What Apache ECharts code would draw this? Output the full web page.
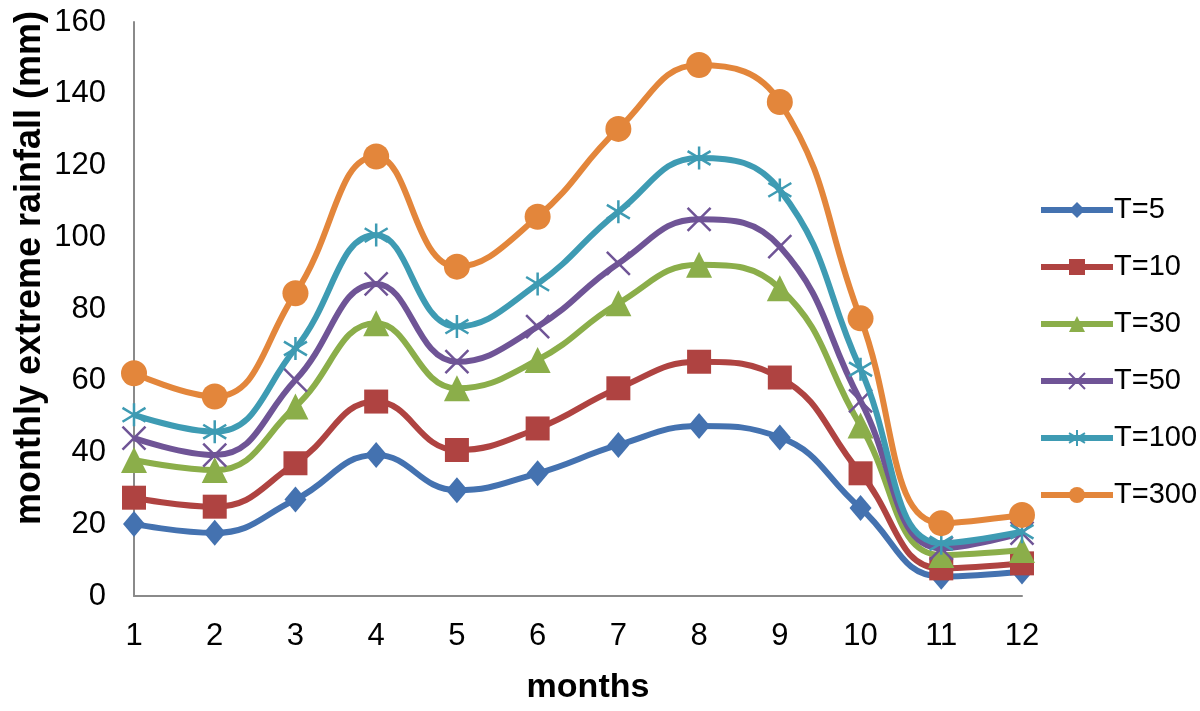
<!DOCTYPE html>
<html>
<head>
<meta charset="utf-8">
<script src="https://cdn.jsdelivr.net/npm/echarts@6/dist/echarts.min.js"></script>
<style>
html,body{margin:0;padding:0;background:#fff;}
#chart{width:1200px;height:711px;}
</style>
</head>
<body>
<div id="chart"></div>
<script>
const months = ['1','2','3','4','5','6','7','8','9','10','11','12'];
const seriesNames = ['T=5','T=10','T=30','T=50','T=100','T=300'];
const t5   = [20.1, 17.6, 26.9, 39.3, 29.5, 34.2, 42.1, 47.4, 44.2, 24.5, 5.4, 6.8];
const t10  = [27.4, 24.9, 37.0, 54.2, 40.7, 46.7, 57.9, 65.3, 60.9, 34.2, 7.7, 9.1];
const t30  = [37.9, 35.1, 52.8, 76.0, 57.9, 65.8, 81.6, 92.3, 85.8, 47.5, 11.4, 12.8];
const t50  = [44.0, 39.3, 60.2, 87.0, 65.3, 75.1, 92.7, 105.0, 97.4, 54.4, 13.3, 17.5];
const t100 = [50.5, 45.8, 69.0, 100.6, 75.1, 87.0, 107.1, 122.1, 113.2, 63.2, 14.7, 17.9];
const t300 = [62.1, 55.6, 84.4, 122.5, 91.8, 105.7, 130.2, 148.0, 137.7, 77.4, 20.3, 22.6];
const yTicks = [0, 20, 40, 60, 80, 100, 120, 140, 160];

const colors = ['#4472B0', '#AF4341', '#8BAE4A', '#6F5496', '#3E9BB3', '#E3863B'];
const symbols = [
  'diamond',
  'rect',
  'triangle',
  'path://M0 0L20 20M20 0L0 20',
  'path://M10 0L10 20M1 4L19 16M1 16L19 4',
  'circle'
];
const symbolSizes = [[22, 26], 24, 26, 23, 23, 26];
const allData = [t5, t10, t30, t50, t100, t300];

const FONT = '"Liberation Sans", Arial, Helvetica, sans-serif';

const series = allData.map((d, i) => {
  const stroked = i === 3 || i === 4;
  return {
    name: seriesNames[i],
    type: 'line',
    data: d,
    smooth: 0.45,
    symbol: symbols[i],
    symbolSize: symbolSizes[i],
    showAllSymbol: true,
    lineStyle: { color: colors[i], width: 6 },
    itemStyle: stroked
      ? { color: colors[i], borderColor: colors[i], borderWidth: 2.5 }
      : { color: colors[i], borderWidth: 0 },
    emphasis: { disabled: true },
    z: 2 + i
  };
});

const chart = echarts.init(document.getElementById('chart'), null, { renderer: 'canvas' });
chart.setOption({
  animation: false,
  backgroundColor: '#ffffff',
  grid: { left: 134, right: 178, top: 22, bottom: 115, containLabel: false },
  xAxis: {
    type: 'category',
    data: months,
    boundaryGap: false,
    axisLine: { lineStyle: { color: '#8a8a8a', width: 2 } },
    axisTick: { show: false },
    axisLabel: { color: '#000', fontSize: 31, fontFamily: FONT, margin: 25 },
    splitLine: { show: false }
  },
  yAxis: {
    type: 'value',
    min: yTicks[0],
    max: yTicks[yTicks.length - 1],
    interval: 20,
    axisLine: { show: true, lineStyle: { color: '#8a8a8a', width: 2 } },
    axisTick: { show: false },
    axisLabel: { color: '#000', fontSize: 31, fontFamily: FONT, margin: 28 },
    splitLine: { show: false }
  },
  legend: {
    orient: 'vertical',
    left: 1033,
    top: 190,
    itemWidth: 72,
    itemHeight: 20,
    itemGap: 27,
    data: seriesNames,
    lineStyle: { width: 6 },
    textStyle: { color: '#000', fontSize: 29, fontFamily: FONT, lineHeight: 30, padding: [0, 0, 0, -4] }
  },
  graphic: [
    {
      type: 'text',
      x: 30, y: 268,
      rotation: Math.PI / 2,
      style: {
        text: 'monthly extreme rainfall (mm)',
        font: 'bold 36px ' + FONT,
        fill: '#000',
        align: 'center',
        verticalAlign: 'middle'
      }
    },
    {
      type: 'text',
      x: 588, y: 688,
      style: {
        text: 'months',
        font: 'bold 34px ' + FONT,
        fill: '#000',
        align: 'center',
        verticalAlign: 'middle'
      }
    }
  ],
  series: series
});
</script>
</body>
</html>
